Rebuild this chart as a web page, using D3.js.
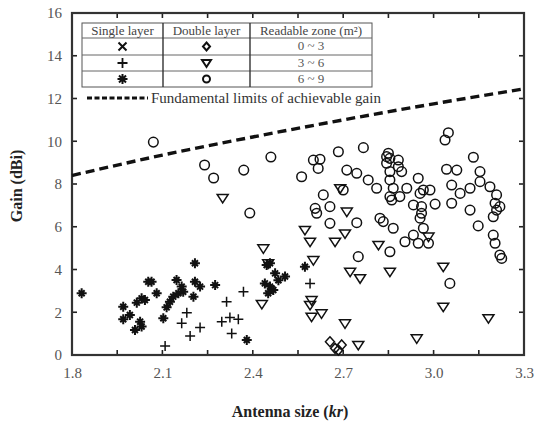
<!DOCTYPE html>
<html><head><meta charset="utf-8">
<script src="https://cdn.jsdelivr.net/npm/d3@7"></script>
<style>body{margin:0;background:#fff}svg{display:block}</style>
</head><body><svg id="c" width="535" height="424"></svg>
<script>
const xTicks = [1.8, 2.1, 2.4, 2.7, 3.0, 3.3];
const yTicks = [0, 2, 4, 6, 8, 10, 12, 14, 16];
const limitKr = [1.8, 2.1, 2.4, 2.7, 3.0, 3.3];
const limitGain = [8.4, 9.35, 10.2, 11.0, 11.75, 12.45];
const starKr = [1.832,1.970,1.992,1.970,2.015,2.031,2.042,2.053,2.064,2.081,2.026,2.031,2.009,2.103,2.114,2.125,2.136,2.147,2.164,2.169,2.153,2.208,2.208,2.203,2.225,2.275,2.380,2.446,2.457,2.474,2.507,2.440,2.457,2.468,2.451,2.485,2.573];
const starGain = [2.89,2.26,1.87,1.67,2.45,2.65,2.57,3.43,3.43,2.89,1.56,1.33,1.17,1.72,2.23,2.49,2.73,3.51,3.20,2.96,2.89,4.29,3.43,2.73,3.20,3.27,0.70,4.21,4.29,3.82,3.67,3.35,3.20,3.04,2.89,3.50,4.13];
const plusKr = [2.181,2.192,2.225,2.109,2.313,2.297,2.324,2.352,2.330,2.369,2.590,2.164];
const plusGain = [1.98,0.89,1.29,0.42,2.49,1.56,1.76,1.67,1.01,2.96,3.35,1.48];
const diamondKr = [2.656,2.673,2.695,2.684];
const diamondGain = [0.62,0.31,0.47,0.23];
const triKr = [2.435,2.430,2.451,2.712,2.573,2.590,2.673,2.706,2.817,2.983,2.690,2.601,2.723,2.756,2.855,3.032,2.595,2.590,2.595,2.628,2.706,2.750,2.944,3.032,3.182,2.300];
const triGain = [4.99,2.39,4.29,6.71,5.85,5.30,5.30,5.69,5.15,5.54,7.80,4.44,3.90,3.59,3.90,4.13,2.57,2.34,1.79,1.95,1.48,0.47,0.78,2.26,1.72,7.35];
const circKr = [2.07,2.24,2.27,2.37,2.46,2.39,3.049,3.038,3.132,3.154,3.043,3.077,3.060,3.088,3.121,3.154,3.187,3.209,3.204,3.220,3.209,3.198,3.121,3.060,3.148,3.198,3.204,3.220,3.226,2.850,2.844,2.855,2.883,2.883,2.844,2.855,2.894,2.855,2.866,2.855,2.861,2.888,2.911,2.949,2.966,2.988,2.955,2.933,2.960,2.960,2.955,3.005,2.966,2.933,2.949,2.983,2.905,2.866,2.822,2.833,2.855,2.767,2.684,2.712,2.745,2.783,2.811,2.601,2.623,2.617,2.562,2.634,2.607,2.612,2.656,2.700,2.656,2.745,2.750,3.054];
const circGain = [9.96,8.89,8.28,8.65,9.26,6.64,10.40,10.06,9.25,8.58,8.69,8.65,7.95,7.56,7.80,8.11,7.87,7.49,7.10,6.94,6.78,6.47,6.78,7.10,6.04,5.61,5.23,4.68,4.52,9.44,9.28,9.20,9.12,8.81,8.97,8.58,8.58,8.19,7.80,7.41,7.25,7.41,7.80,8.27,7.72,7.72,7.56,7.02,6.94,6.63,6.40,7.06,5.93,5.61,5.23,5.23,5.30,5.93,6.40,6.24,4.83,9.70,9.51,8.65,8.50,8.19,7.80,9.12,9.16,8.73,8.34,7.49,6.86,6.63,6.94,7.72,6.16,6.19,4.60,3.35];
const legendHeader = ["Single layer", "Double layer", "Readable zone (m\u00B2)"];
const legendZones = ["0 ~ 3", "3 ~ 6", "6 ~ 9"];
const limitLabel = "Fundamental limits of achievable gain";

const svg = d3.select("#c");
const L = 72, R = 524, T = 13, B = 355;
const x = d3.scaleLinear().domain([1.8, 3.3]).range([L, R]);
const y = d3.scaleLinear().domain([0, 16]).range([B, T]);
const serif = "'Liberation Serif','Times New Roman',serif";
const ink = "#222";

// minor ticks every 0.15
const xMinor = d3.range(0, 11).map(i => 1.8 + i * 0.15);
const g = svg.append("g");
g.selectAll(".xtb").data(xMinor).join("line")
  .attr("x1", d => x(d)).attr("x2", d => x(d)).attr("y1", B).attr("y2", B - 5)
  .attr("stroke", ink).attr("stroke-width", 1.6);
g.selectAll(".xtt").data(xMinor).join("line")
  .attr("x1", d => x(d)).attr("x2", d => x(d)).attr("y1", T).attr("y2", T + 5)
  .attr("stroke", ink).attr("stroke-width", 1.6);
g.selectAll(".ytl").data(yTicks).join("line")
  .attr("x1", L).attr("x2", L + 5).attr("y1", d => y(d)).attr("y2", d => y(d))
  .attr("stroke", ink).attr("stroke-width", 1.6);
g.selectAll(".ytr").data(yTicks).join("line")
  .attr("x1", R).attr("x2", R - 5).attr("y1", d => y(d)).attr("y2", d => y(d))
  .attr("stroke", ink).attr("stroke-width", 1.6);

// axes labels via d3 axes (ticks hidden)
const xAxis = d3.axisBottom(x).tickValues(xTicks).tickSize(0).tickPadding(12).tickFormat(d3.format(".1f"));
const yAxis = d3.axisLeft(y).tickValues(yTicks).tickSize(0).tickPadding(10);
const gx = svg.append("g").attr("transform", `translate(0,${B})`).call(xAxis);
const gy = svg.append("g").attr("transform", `translate(${L},0)`).call(yAxis);
[gx, gy].forEach(a => {
  a.select(".domain").remove();
  a.selectAll("text").attr("font-family", serif).attr("font-size", 15).attr("fill", "#555");
});

// frame
svg.append("rect").attr("x", L).attr("y", T).attr("width", R - L).attr("height", B - T)
  .attr("fill", "none").attr("stroke", "#333").attr("stroke-width", 2.2);

// limit curve
const line = d3.line().x(d => x(d[0])).y(d => y(d[1])).curve(d3.curveMonotoneX);
svg.append("path").datum(limitKr.map((k, i) => [k, limitGain[i]]))
  .attr("d", line).attr("fill", "none").attr("stroke", "#111")
  .attr("stroke-width", 3.4).attr("stroke-dasharray", "9,5");

const pts = (a, b) => a.map((k, i) => [k, b[i]]);
const mk = svg.append("g").attr("fill", "none").attr("stroke", "#111");

// circles
mk.selectAll(".c").data(pts(circKr, circGain)).join("circle")
  .attr("cx", d => x(d[0])).attr("cy", d => y(d[1])).attr("r", 4.8)
  .attr("stroke-width", 1.5);
// triangles (down)
mk.selectAll(".t").data(pts(triKr, triGain)).join("path")
  .attr("d", d => { const cx = x(d[0]), cy = y(d[1]); return `M${cx-5.5},${cy-3.5}L${cx+5.5},${cy-3.5}L${cx},${cy+5}Z`; })
  .attr("stroke-width", 1.5);
// diamonds
mk.selectAll(".d").data(pts(diamondKr, diamondGain)).join("path")
  .attr("d", d => { const cx = x(d[0]), cy = y(d[1]); return `M${cx},${cy-5}L${cx+4.5},${cy}L${cx},${cy+5}L${cx-4.5},${cy}Z`; })
  .attr("stroke-width", 1.5);
// thin plus
mk.selectAll(".p").data(pts(plusKr, plusGain)).join("path")
  .attr("d", d => { const cx = x(d[0]), cy = y(d[1]); return `M${cx-5},${cy}H${cx+5}M${cx},${cy-5}V${cy+5}`; })
  .attr("stroke-width", 1.5);
// bold star (+ and x)
mk.selectAll(".s").data(pts(starKr, starGain)).join("path")
  .attr("d", d => { const cx = x(d[0]), cy = y(d[1]); return `M${cx-5},${cy}H${cx+5}M${cx},${cy-5}V${cy+5}M${cx-3},${cy-3}L${cx+3},${cy+3}M${cx-3},${cy+3}L${cx+3},${cy-3}`; })
  .attr("stroke-width", 2);

// legend table
const lg = svg.append("g");
const cols = [82, 163, 250, 372];
const rows = [23, 38, 55, 71, 87];
lg.append("rect").attr("x", cols[0]).attr("y", rows[0]).attr("width", cols[3] - cols[0]).attr("height", rows[4] - rows[0])
  .attr("fill", "#fff").attr("stroke", "#555").attr("stroke-width", 1);
rows.slice(1, 4).forEach(r => lg.append("line").attr("x1", cols[0]).attr("x2", cols[3]).attr("y1", r).attr("y2", r).attr("stroke", "#666").attr("stroke-width", 1));
cols.slice(1, 3).forEach(c => lg.append("line").attr("x1", c).attr("x2", c).attr("y1", rows[0]).attr("y2", rows[4]).attr("stroke", "#333").attr("stroke-width", 1.4));
legendHeader.forEach((t, i) => lg.append("text").attr("x", (cols[i] + cols[i + 1]) / 2).attr("y", rows[0] + 12)
  .attr("text-anchor", "middle").attr("font-family", serif).attr("font-size", 13).attr("fill", "#444").text(t));
legendZones.forEach((t, i) => lg.append("text").attr("x", (cols[2] + cols[3]) / 2).attr("y", rows[i + 1] + 12)
  .attr("text-anchor", "middle").attr("font-family", serif).attr("font-size", 13).attr("fill", "#555").text(t));
const c1 = (cols[0] + cols[1]) / 2, c2 = (cols[1] + cols[2]) / 2;
const rc = i => (rows[i + 1] + rows[i + 2]) / 2;
lg.append("path").attr("d", `M${c1-4},${rc(0)-4}L${c1+4},${rc(0)+4}M${c1-4},${rc(0)+4}L${c1+4},${rc(0)-4}`).attr("stroke", "#111").attr("stroke-width", 2);
lg.append("path").attr("d", `M${c1-5},${rc(1)}H${c1+5}M${c1},${rc(1)-5}V${rc(1)+5}`).attr("stroke", "#111").attr("stroke-width", 1.8);
lg.append("path").attr("d", `M${c1-5},${rc(2)}H${c1+5}M${c1},${rc(2)-5}V${rc(2)+5}M${c1-3.5},${rc(2)-3.5}L${c1+3.5},${rc(2)+3.5}M${c1-3.5},${rc(2)+3.5}L${c1+3.5},${rc(2)-3.5}`).attr("stroke", "#111").attr("stroke-width", 2);
lg.append("path").attr("d", `M${c2},${rc(0)-4}L${c2+3.5},${rc(0)}L${c2},${rc(0)+4}L${c2-3.5},${rc(0)}Z`).attr("fill", "none").attr("stroke", "#111").attr("stroke-width", 2);
lg.append("path").attr("d", `M${c2-4.5},${rc(1)-3}L${c2+4.5},${rc(1)-3}L${c2},${rc(1)+4}Z`).attr("fill", "none").attr("stroke", "#111").attr("stroke-width", 2);
lg.append("circle").attr("cx", c2).attr("cy", rc(2)).attr("r", 3.5).attr("fill", "none").attr("stroke", "#111").attr("stroke-width", 2);

// limit legend
lg.append("line").attr("x1", 87).attr("x2", 148).attr("y1", 98).attr("y2", 98)
  .attr("stroke", "#111").attr("stroke-width", 3).attr("stroke-dasharray", "5,2.5");
lg.append("text").attr("x", 151).attr("y", 103).attr("font-family", serif).attr("font-size", 15).attr("fill", "#333").text(limitLabel);

// axis titles
svg.append("text").attr("x", 290).attr("y", 417).attr("text-anchor", "middle")
  .attr("font-family", serif).attr("font-size", 16).attr("font-weight", "bold").attr("fill", "#222")
  .html('Antenna size (<tspan font-style="italic">kr</tspan>)');
svg.append("text").attr("transform", "translate(22,186) rotate(-90)").attr("text-anchor", "middle")
  .attr("font-family", serif).attr("font-size", 16).attr("font-weight", "bold").attr("fill", "#222")
  .text("Gain (dBi)");
</script></body></html>
